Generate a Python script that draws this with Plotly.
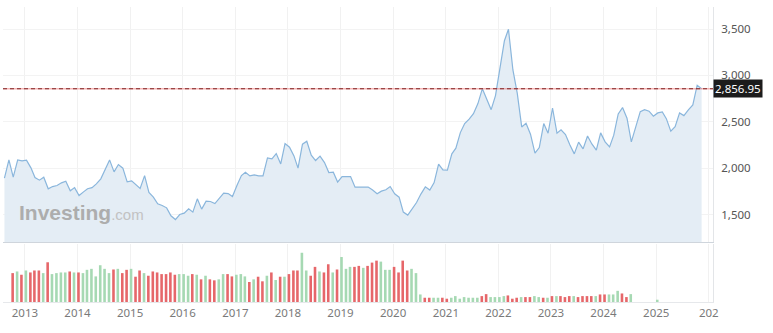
import datetime as dt
import plotly.graph_objects as go

# ---------------- data ----------------
price_start = (2012, 8)          # first monthly close: Aug 2012
price_values = [
    1895, 2091, 1905, 2091, 2081, 2088, 2005, 1901, 1873, 1905,
    1780, 1804, 1815, 1844, 1862, 1758, 1793, 1707, 1747, 1780,
    1793, 1833, 1887, 1995, 2091, 1962, 2041, 2002, 1855, 1866,
    1823, 1783, 1922, 1740, 1690, 1618, 1600, 1575, 1489, 1449,
    1503, 1518, 1564, 1529, 1672, 1561, 1647, 1643, 1621, 1675,
    1733, 1729, 1697, 1815, 1922, 1959, 1919, 1930, 1919, 1919,
    2113, 2102, 2159, 2048, 2267, 2228, 2134, 2002, 2260, 2292,
    2142, 2084, 2131, 2062, 1955, 1959, 1852, 1912, 1912, 1912,
    1798, 1798, 1801, 1798, 1766, 1726, 1755, 1769, 1804, 1726,
    1690, 1529, 1497, 1557, 1632, 1723, 1801, 1766, 1847, 2045,
    1984, 1981, 2156, 2217, 2385, 2482, 2529, 2589, 2697, 2858,
    2737, 2632, 2783, 3059, 3374, 3497, 3059, 2809, 2446, 2486,
    2368, 2163, 2224, 2482, 2378, 2650, 2378, 2414, 2363, 2253,
    2156, 2282, 2210, 2349, 2263, 2196, 2382, 2285, 2231, 2357,
    2586, 2654, 2540, 2285, 2449, 2611, 2632, 2615, 2561, 2597,
    2608, 2535, 2400, 2449, 2597, 2568, 2629, 2683, 2895, 2856.95,
]
last_price = 2856.95
last_price_label = "2,856.95"

volume_start = (2012, 10)        # first monthly volume bar: Oct 2012
volume_values = [
    88, 93, 83, 96, 90, 96, 96, 88, 121, 85,
    88, 90, 90, 93, 90, 90, 88, 98, 101, 78,
    112, 101, 88, 99, 101, 88, 98, 101, 77, 96,
    88, 80, 93, 90, 85, 85, 90, 83, 85, 85,
    80, 85, 83, 69, 80, 69, 66, 69, 85, 85,
    78, 83, 85, 78, 61, 69, 77, 63, 80, 90,
    67, 77, 77, 85, 96, 96, 150, 96, 80, 107,
    93, 90, 115, 90, 99, 137, 101, 107, 107, 110,
    104, 110, 120, 126, 123, 98, 98, 107, 90, 126,
    96, 101, 88, 23, 13, 13, 13, 13, 13, 10,
    13, 18, 10, 15, 13, 13, 13, 18, 24, 15,
    15, 15, 18, 20, 10, 13, 15, 15, 15, 18,
    15, 13, 13, 18, 18, 18, 15, 18, 18, 15,
    18, 18, 18, 18, 23, 23, 23, 23, 34, 26,
    15, 24, None, None, None, None, None, 7,
]
volume_dirs = list(
    "RGRGRRRGRG" "GGGRGRGGGG" "GGGRGRRGRR" "GRRRRRRRGG" "GRGRGRRGGR"
    "RGGGRGRRGR" "GRGRRRGGRR" "GRRGRGGGRR" "GRRRGGGRRR" "RGGGRRGGRR"
    "GGGGGGGRRG" "GGGRRRGRRG" "GRGRGRRRGR" "RRRGRRGGGR" "RGGGGGGG"
)

year_ticks = list(range(2013, 2027))
year_labels = [str(y) for y in range(2013, 2026)] + ["202"]
price_ticks = [1500, 2000, 2500, 3000, 3500]


def monthly_dates(start, n, day):
    y, m = start
    out = []
    for i in range(n):
        k = m - 1 + i
        out.append(dt.date(y + k // 12, k % 12 + 1, day))
    return out


price_dates = monthly_dates(price_start, len(price_values), 12)
volume_dates = monthly_dates(volume_start, len(volume_values), 8)
UP = "#a6d9b3"
DOWN = "#e6676a"
volume_colors = [UP if d == "G" else DOWN for d in volume_dirs]

FONT = "Noto Sans"

fig = go.Figure()
fig.add_trace(go.Scatter(
    x=price_dates, y=price_values, mode="lines",
    line=dict(color="#8ab6dc", width=1.2),
    fill="tozeroy", fillcolor="#e4edf5",
    xaxis="x2", yaxis="y2", hoverinfo="skip", showlegend=False,
))
fig.add_trace(go.Bar(
    x=volume_dates, y=volume_values, marker=dict(color=volume_colors, line=dict(width=0)),
    width=18 * 86400000, xaxis="x", yaxis="y", hoverinfo="skip", showlegend=False,
))

tickdates = [dt.date(y, 1, 1) for y in year_ticks]
xrange = [dt.date(2012, 8, 2), dt.date(2026, 1, 30)]

fig.update_layout(
    width=773, height=333,
    margin=dict(l=3, r=60, t=7, b=31),
    paper_bgcolor="white", plot_bgcolor="white",
    font=dict(family=FONT, size=11, color="#555555"),
    bargap=0.4,
    xaxis=dict(
        domain=[0, 1], anchor="y", type="date", range=xrange,
        tickvals=tickdates, ticktext=year_labels,
        showgrid=True, gridcolor="#f1f1f1", gridwidth=1,
        showline=True, linecolor="#e6e8eb", linewidth=1,
        ticks="", tickfont=dict(family=FONT, size=11.5, color="#7a7a7a"),
        zeroline=False, fixedrange=True,
    ),
    xaxis2=dict(
        domain=[0, 1], anchor="y2", type="date", matches="x",
        tickvals=tickdates, showticklabels=False,
        showgrid=True, gridcolor="#f1f1f1", gridwidth=1,
        showline=True, linecolor="#cfd5dc", linewidth=1,
        ticks="", zeroline=False,
    ),
    yaxis=dict(
        domain=[0, 0.197], anchor="x", range=[0, 177], side="right",
        showticklabels=False, showgrid=False, zeroline=False,
        showline=True, linecolor="#e3e5e8", linewidth=1, ticks="",
    ),
    yaxis2=dict(
        domain=[0.203, 1], anchor="x2", range=[1206, 3737], side="right",
        tickvals=price_ticks, tickformat=",",
        showgrid=True, gridcolor="#f3f3f3", gridwidth=1,
        showline=True, linecolor="#e3e5e8", linewidth=1,
        ticks="", ticklabelstandoff=5,
        tickfont=dict(family=FONT, size=11.5, color="#555555"),
        zeroline=False,
    ),
    shapes=[
        dict(type="line", xref="paper", x0=0, x1=1, yref="y2",
             y0=last_price, y1=last_price, layer="above",
             line=dict(color="rgba(240,120,120,0.55)", width=1.6)),
        dict(type="line", xref="paper", x0=0, x1=1, yref="y2",
             y0=last_price, y1=last_price, layer="above",
             line=dict(color="#7d2424", width=1, dash="4px,3px")),
    ],
    annotations=[
        dict(xref="paper", x=1.0, xanchor="left", yref="y2", y=last_price,
             yanchor="middle", text=last_price_label, showarrow=False,
             bgcolor="#1c1c1c", borderpad=1,
             font=dict(family=FONT, size=11.5, color="white")),
        dict(xref="paper", x=0.0197, xanchor="left", yref="paper", y=0.302,
             yanchor="middle", showarrow=False,
             text="<b>Investing</b><span style='font-size:15px;color:#c2c2c2'>.com</span>",
             font=dict(family="Liberation Sans", size=21, color="#adadad")),
    ],
)

fig.write_html("out.html")
